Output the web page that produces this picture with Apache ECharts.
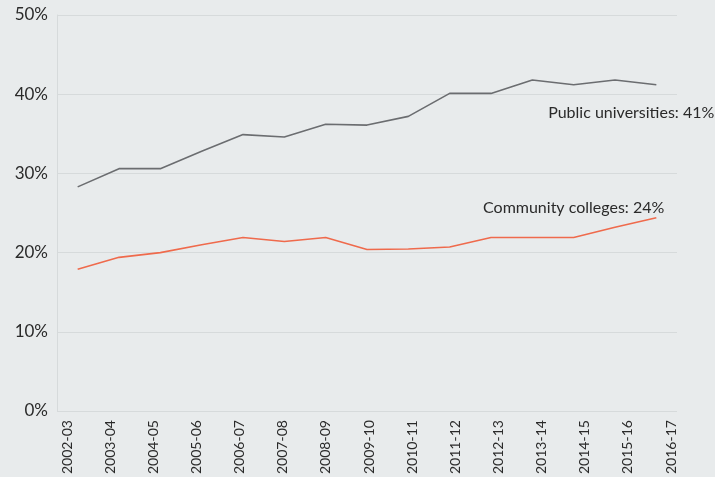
<!DOCTYPE html>
<html>
<head>
<meta charset="utf-8">
<style>
  html, body { margin: 0; padding: 0; background: #e8ebec; }
  #chart { width: 715px; height: 477px; }
</style>
<script src="https://cdn.jsdelivr.net/npm/echarts@6/dist/echarts.min.js"></script>
</head>
<body>
<div id="chart"></div>
<script>
// Academic years on the horizontal axis
const years = ['2002-03', '2003-04', '2004-05', '2005-06', '2006-07', '2007-08', '2008-09',
  '2009-10', '2010-11', '2011-12', '2012-13', '2013-14', '2014-15', '2015-16', '2016-17'];

// Share of students, in percent
const publicUniversities = [28.3, 30.6, 30.6, 32.8, 34.9, 34.6, 36.2, 36.1, 37.2, 40.1, 40.1, 41.8, 41.2, 41.8, 41.2];
const communityColleges = [17.9, 19.4, 20.0, 21.0, 21.9, 21.4, 21.9, 20.4, 20.45, 20.7, 21.9, 21.9, 21.9, 23.2, 24.4];

const seriesNames = ['Public universities', 'Community colleges'];
const yTicks = [0, 10, 20, 30, 40, 50];

const FONT = 'Lato, "Noto Sans", sans-serif';
const TEXT = '#2a2a2a';

const chart = echarts.init(document.getElementById('chart'), null, { renderer: 'canvas' });

function endLabel(offset) {
  return {
    show: true,
    formatter: p => p.seriesName + ': ' + Math.round(p.value) + '%',
    color: TEXT,
    fontFamily: FONT,
    fontSize: 16,
    align: 'right',
    verticalAlign: 'middle',
    distance: 0,
    offset: offset
  };
}

chart.setOption({
  backgroundColor: '#e8ebec',
  animation: false,
  grid: [
    { left: 57, right: 38, top: 15, bottom: 66 },
    { left: 67, right: 44, top: 15, bottom: 66 }
  ],
  xAxis: [
    {
      type: 'category',
      gridIndex: 0,
      data: years,
      boundaryGap: true,
      axisLine: { show: false },
      axisTick: { show: false },
      axisLabel: { show: false }
    },
    {
      type: 'category',
      gridIndex: 1,
      data: years,
      boundaryGap: false,
      axisLine: { show: false },
      axisTick: { show: false },
      axisLabel: {
        rotate: 90,
        margin: 12,
        interval: 0,
        color: TEXT,
        fontFamily: FONT,
        fontSize: 14
      }
    }
  ],
  yAxis: [
    {
      type: 'value',
      gridIndex: 0,
      min: yTicks[0],
      max: yTicks[yTicks.length - 1],
      interval: 10,
      axisLine: { show: true, lineStyle: { color: '#d6dadb', width: 1 } },
      axisTick: { show: false },
      splitLine: { lineStyle: { color: '#d6dadb', width: 1 } },
      axisLabel: {
        formatter: '{value}%',
        margin: 9,
        color: TEXT,
        fontFamily: FONT,
        fontSize: 17
      }
    },
    {
      type: 'value',
      gridIndex: 1,
      min: 0,
      max: 50,
      show: false
    }
  ],
  series: [
    {
      name: seriesNames[0],
      type: 'line',
      xAxisIndex: 0,
      yAxisIndex: 0,
      data: publicUniversities,
      symbol: 'none',
      lineStyle: { color: '#6b6d70', width: 1.6 },
      itemStyle: { color: '#6b6d70' },
      endLabel: endLabel([58, 28])
    },
    {
      name: seriesNames[1],
      type: 'line',
      xAxisIndex: 0,
      yAxisIndex: 0,
      data: communityColleges,
      symbol: 'none',
      lineStyle: { color: '#ef6a4c', width: 1.6 },
      itemStyle: { color: '#ef6a4c' },
      endLabel: endLabel([8, -10])
    }
  ]
});
</script>
</body>
</html>
